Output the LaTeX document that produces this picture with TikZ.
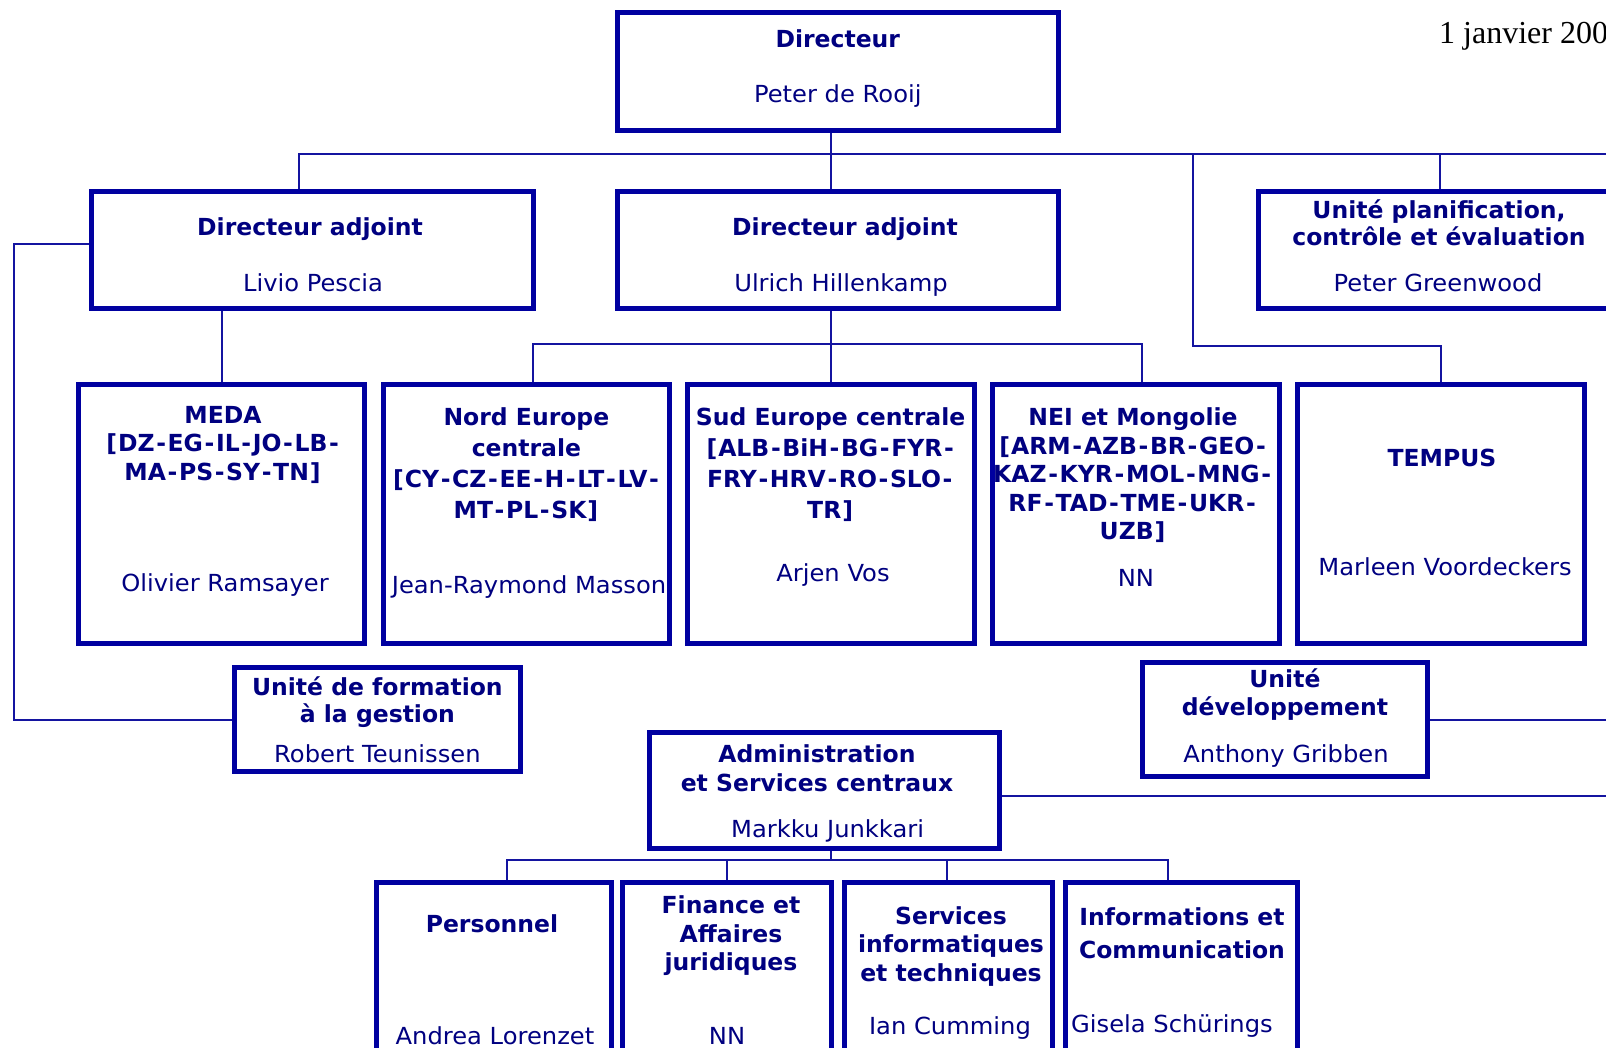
\documentclass[tikz,border=0pt]{standalone}
\usepackage{fontspec}
\setmainfont{DejaVu Sans}[UprightFeatures={FakeStretch=1.03}]
\newfontfamily\datefont{Liberation Serif}
\usetikzlibrary{fit}
\definecolor{bxblue}{RGB}{0,0,160}
\definecolor{lnblue}{RGB}{20,20,160}
\definecolor{txblue}{RGB}{0,0,128}
\newcommand\hy{\kern0.07em-\kern0.07em}
\newcommand\lb{\kern0.04em[\kern0.04em}
\newcommand\rb{\kern0.04em]\kern0.04em}
\begin{document}
\begin{tikzpicture}[x=1pt,y=-1pt,
  box/.style={draw=bxblue, line width=5pt, inner sep=0pt},
  conn/.style={draw=lnblue, line width=2pt},
  ttl/.style={font=\bfseries\fontsize{23.5}{28.5}\selectfont, text=txblue, align=center, inner sep=0pt},
  nm/.style={font=\fontsize{23.5}{28.5}\selectfont, text=txblue, inner sep=0pt}]
\useasboundingbox (0,0) rectangle (1606,1047);
\clip (0,0) rectangle (1606,1047);
% boxes
\node[box, fit={(617.6,12.3) (1058,130)}] (dir) {};
\node[box, fit={(91,191.5) (533.6,308.3)}] (da1) {};
\node[box, fit={(617.6,191.5) (1058,308.3)}] (da2) {};
\node[box, fit={(1258.7,191.5) (1625,308.3)}] (upce) {};
\node[box, fit={(78.9,384) (364.6,643)}] (meda) {};
\node[box, fit={(383,384) (669.8,643)}] (nord) {};
\node[box, fit={(687.2,384) (974,643)}] (sud) {};
\node[box, fit={(992.5,384) (1279.2,643)}] (nei) {};
\node[box, fit={(1297.7,384) (1584.4,643)}] (tempus) {};
\node[box, fit={(234.5,667.8) (520.3,771.2)}] (form) {};
\node[box, fit={(1142,662.7) (1427.7,776.3)}] (dev) {};
\node[box, fit={(649.3,732.3) (999.6,848)}] (adm) {};
\node[box, fit={(376.9,882.9) (611.4,1070)}] (pers) {};
\node[box, fit={(622.7,882.9) (831.6,1070)}] (fin) {};
\node[box, fit={(844,882.9) (1052.9,1070)}] (serv) {};
\node[box, fit={(1065.2,882.9) (1297.7,1070)}] (info) {};
% connectors
\coordinate (xc) at (830.6,0);
\coordinate (topL) at (299,153.6);
\coordinate (topR) at (1606,153.6);
\coordinate (xU) at (1440,0);
\coordinate (tj) at (1193,346);
\coordinate (lft) at (14.3,243.8);
\coordinate (b2L) at (532.6,344);
\coordinate (b2R) at (1142,344);
\coordinate (eR) at (1606,0);
\coordinate (ay) at (0,795.8);
\coordinate (b3) at (0,860.3);
\coordinate (p1) at (507,860.3);
\coordinate (p2) at (727.2,860.3);
\coordinate (p3) at (947.4,860.3);
\coordinate (p4) at (1167.6,860.3);
\draw[conn] (dir.south -| xc) -- (da2.north -| xc);
\draw[conn] (da1.north -| topL) -- (topL) -- (topR);
\draw[conn] (xU |- topR) -- (upce.north -| xU);
\draw[conn] (tj |- topR) -- (tj) -| (tempus.north);
\draw[conn] (da1.west |- lft) -- (lft) |- (form.west);
\draw[conn] (meda.north |- da1.south) -- (meda.north);
\draw[conn] (da2.south -| xc) -- (sud.north -| xc);
\draw[conn] (nord.north -| b2L) -- (b2L) -- (b2R) -- (nei.north -| b2R);
\draw[conn] (dev.east) -- (dev.east -| eR);
\draw[conn] (adm.east |- ay) -- (eR |- ay);
\draw[conn] (adm.south -| xc) -- (xc |- b3);
\draw[conn] (pers.north -| p1) -- (p1) -- (p4) -- (info.north -| p4);
\draw[conn] (p2) -- (fin.north -| p2);
\draw[conn] (p3) -- (serv.north -| p3);
% texts
\node[anchor=base west, font=\datefont\fontsize{32}{38}\selectfont, inner sep=0pt] (date) at (1439,43) {1 janvier 200};
\node[ttl] (t1) at (837.8,38.9) {Directeur};
\node[nm] (n1) at (837.8,96.2) {Peter de Rooij};
\node[ttl] (t2) at (310,229.3) {Directeur adjoint};
\node[nm] (n2) at (313,282.7) {Livio Pescia};
\node[ttl] (t3) at (845,229.3) {Directeur adjoint};
\node[nm] (n3) at (841,284.7) {Ulrich Hillenkamp};
\node[ttl, font=\bfseries\fontsize{23.5}{27.6}\selectfont] (t4) at (1439,222.8) {Unité planification,\\contrôle et évaluation};
\node[nm] (n4) at (1438,282.7) {Peter Greenwood};
\node[ttl] (t5) at (223,444.5) {MEDA\\\lb DZ\hy EG\hy IL\hy JO\hy LB\hy\\MA\hy PS\hy SY\hy TN\rb};
\node[nm] (n5) at (225,584.8) {Olivier Ramsayer};
\node[ttl, font=\bfseries\fontsize{23.5}{31}\selectfont] (t6) at (526.4,464.4) {Nord Europe\\centrale\\\lb CY\hy CZ\hy EE\hy H\hy LT\hy LV\hy\\MT\hy PL\hy SK\rb};
\node[nm] (n6) at (529,586.8) {Jean-Raymond Masson};
\node[ttl, font=\bfseries\fontsize{23.5}{31}\selectfont] (t7) at (830.6,464.4) {Sud Europe centrale\\\lb ALB\hy BiH\hy BG\hy FYR\hy\\FRY\hy HRV\hy RO\hy SLO\hy\\TR\rb};
\node[nm] (n7) at (833,575.5) {Arjen Vos};
\node[ttl] (t8) at (1133,475.2) {NEI et Mongolie\\\lb ARM\hy AZB\hy BR\hy GEO\hy\\KAZ\hy KYR\hy MOL\hy MNG\hy\\RF\hy TAD\hy TME\hy UKR\hy\\UZB\rb};
\node[nm] (n8) at (1135.9,577.6) {NN};
\node[ttl] (t9) at (1442,457.8) {TEMPUS};
\node[nm] (n9) at (1445,566.4) {Marleen Voordeckers};
\node[ttl, font=\bfseries\fontsize{23.5}{27.7}\selectfont] (t10) at (377.4,702) {Unité de formation\\à la gestion};
\node[nm] (n10) at (377.4,753.8) {Robert Teunissen};
\node[ttl] (t11) at (1284.9,694.4) {Unité\\développement};
\node[nm] (n11) at (1286,755.8) {Anthony Gribben};
\node[ttl] (t12) at (817,768.2) {Administration\\et Services centraux};
\node[nm] (n12) at (827.6,830.6) {Markku Junkkari};
\node[ttl] (t13) at (492,923.8) {Personnel};
\node[nm] (n13) at (495,1035.5) {Andrea Lorenzet};
\node[ttl] (t14) at (731,936) {Finance et\\Affaires\\juridiques};
\node[nm] (n14) at (727,1035.5) {NN};
\node[ttl] (t15) at (951,946.3) {Services\\informatiques\\et techniques};
\node[nm] (n15) at (950,1028.2) {Ian Cumming};
\node[ttl, font=\bfseries\fontsize{23.5}{32.7}\selectfont] (t16) at (1182,933) {Informations et\\Communication};
\node[nm] (n16) at (1172,1026.2) {Gisela Schürings};
\end{tikzpicture}
\end{document}
